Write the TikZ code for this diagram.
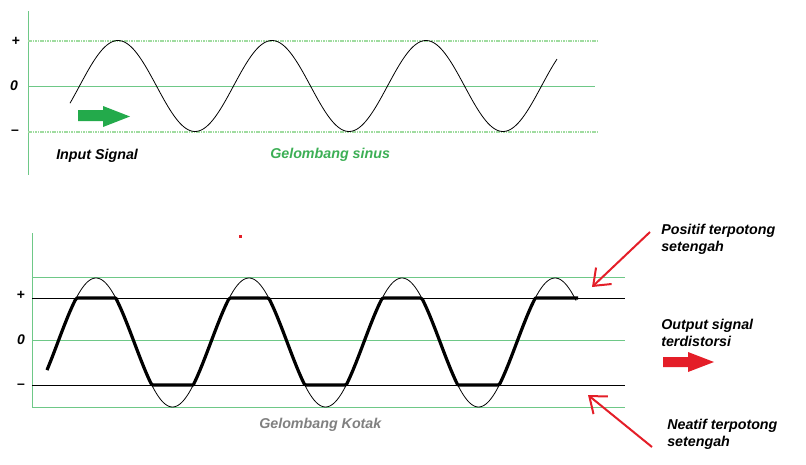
\documentclass[tikz,border=0pt]{standalone}
\usepackage{fontspec}
\setmainfont{Liberation Sans}
\usetikzlibrary{arrows.meta}
\definecolor{lightgrn}{RGB}{160,220,160}
\definecolor{midgrn}{RGB}{110,200,135}
\definecolor{txtgrn}{RGB}{60,175,85}
\definecolor{arrgrn}{RGB}{35,170,75}
\definecolor{redarr}{RGB}{228,30,40}
\definecolor{kotakgray}{RGB}{128,128,128}
\tikzset{>=stealth}

\begin{document}
\begin{tikzpicture}[x=0.75pt,y=-0.75pt,
  lbl/.style={font=\fontsize{10.7}{12.75}\selectfont\bfseries\itshape, align=left, inner sep=0pt, anchor=north west},
  sgn/.style={font=\fontsize{10.5}{12.75}\selectfont\bfseries, inner sep=0pt},
  dotline/.style={lightgrn, line width=1.1pt, dash pattern=on 1.2pt off 0.6pt},
  grnline/.style={midgrn, line width=0.75pt},
  blkline/.style={black, line width=0.75pt},
  redline/.style={redarr, line width=1.5pt, -{Straight Barb[length=11pt,width=17pt]}}]
\useasboundingbox (0,0) rectangle (806,464);

% input signal
\draw [grnline] (28,11) -- (28,175);
\draw [dotline] (28,41) -- (598,41);
\draw [grnline] (28,86) -- (595,86);
\draw [dotline] (28,132) -- (598,132);
\node [sgn] (inplus) at (16,41) {+};
\node [sgn, font=\fontsize{10.5}{12.75}\selectfont\bfseries\itshape] (inzero) at (14,86) {0};
\node [sgn] (inminus) at (15,132) {--};
\draw [black, line width=0.6pt] plot [domain=70:557, samples=240] (\x, {86-45.5*cos((\x-118)/154*360)});
\fill [arrgrn] (78,110) -- (103,110) -- (103,106) -- (130,116.5) -- (103,127) -- (103,121) -- (78,121) -- cycle;
\node [lbl] (insig) at (56,149) {Input Signal};
\node [lbl, txtgrn] (sinus) at (270,148) {Gelombang sinus};

% output signal
\draw [grnline] (32,233) -- (32,407);
\draw [grnline] (32,277) -- (625,277);
\draw [blkline] (32,298) -- (625,298);
\draw [grnline] (32,340) -- (625,340);
\draw [blkline] (32,385) -- (625,385);
\draw [grnline] (32,407) -- (625,407);
\node [sgn] (outplus) at (21,295) {+};
\node [sgn, font=\fontsize{10.5}{12.75}\selectfont\bfseries\itshape] (outzero) at (21,340) {0};
\node [sgn] (outminus) at (21,386) {--};
\draw [black, line width=0.6pt] plot [domain=47:576, samples=300] (\x, {342.5-64.5*cos((\x-96)/153*360)});
\draw [black, line width=2.4pt, line join=round] plot [domain=47:574, samples=300] (\x, {342.5-max(-42.5,min(44.5,64.5*cos((\x-96)/153*360)))}) -- (578,298);
\fill [redarr] (239,235) rectangle (242,238);
\node [lbl, kotakgray] (kotak) at (259,418) {Gelombang Kotak};

\node [lbl] (posclip) at (661,224) {Positif terpotong\\setengah};
\node [lbl] (outsig) at (661,319) {Output signal\\terdistorsi};
\node [lbl] (negclip) at (667,419) {Neatif terpotong\\setengah};
\fill [redarr] (663,357) -- (688,357) -- (688,352) -- (714,362) -- (688,372) -- (688,367) -- (663,367) -- cycle;
\coordinate (postail) at (650,232);
\coordinate (poshead) at (592,287);
\coordinate (negtail) at (652,447);
\coordinate (neghead) at (588,395);
\draw [redline] (postail) -- (poshead);
\draw [redline] (negtail) -- (neghead);
\end{tikzpicture}
\end{document}
